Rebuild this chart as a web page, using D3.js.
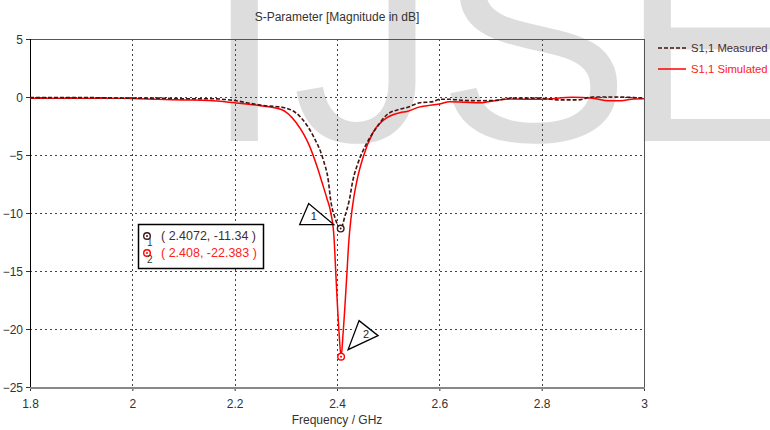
<!DOCTYPE html>
<html>
<head>
<meta charset="utf-8">
<script src="https://cdn.jsdelivr.net/npm/d3@7"></script>
<style>
  html, body { margin: 0; padding: 0; background: #fff; }
  svg { display: block; font-family: "Liberation Sans", Arial, sans-serif; }
</style>
</head>
<body>
<div id="chart"></div>
<script>
// Axis ticks
const xTicks = [1.8, 2, 2.2, 2.4, 2.6, 2.8, 3];
const yTicks = [5, 0, -5, -10, -15, -20, -25];

// S1,1 measured (dashed)
const freqMeas = [1.8, 1.9, 2.0, 2.05, 2.1, 2.15, 2.2, 2.23, 2.26, 2.295, 2.328, 2.354, 2.373, 2.383, 2.388, 2.396,
  2.4072, 2.416, 2.424, 2.431, 2.441, 2.458, 2.478, 2.497, 2.523, 2.537, 2.562, 2.588, 2.6, 2.62, 2.65, 2.68,
  2.71, 2.74, 2.8, 2.83, 2.87, 2.9, 2.95, 2.98, 3.0];
const measDb = [-0.05, -0.05, -0.1, -0.1, -0.15, -0.15, -0.3, -0.55, -0.75, -0.9, -1.7, -3.4, -5.4, -7.2, -9.0, -10.4,
  -11.34, -10.2, -8.9, -7.2, -5.7, -4.0, -2.6, -1.55, -1.05, -0.9, -0.5, -0.4, -0.2, -0.2, -0.3, -0.32,
  -0.3, -0.1, -0.1, -0.25, -0.25, 0.0, 0.0, -0.05, -0.1];

// S1,1 simulated (red)
const freqSim = [1.8, 1.9, 2.0, 2.05, 2.1, 2.15, 2.2, 2.25, 2.29, 2.32, 2.347, 2.361, 2.371, 2.38, 2.388, 2.394,
  2.398, 2.404, 2.408, 2.412, 2.419, 2.423, 2.427, 2.433, 2.439, 2.451, 2.47, 2.497, 2.523, 2.537, 2.562, 2.576,
  2.6, 2.62, 2.65, 2.68, 2.71, 2.74, 2.8, 2.86, 2.9, 2.93, 2.955, 2.98, 3.0];
const simDb = [-0.1, -0.1, -0.12, -0.2, -0.25, -0.3, -0.5, -0.75, -1.06, -2.2, -4.3, -6.0, -7.4, -8.7, -10.0, -12.0,
  -15.5, -20.3, -22.383, -20.3, -15.5, -12.5, -10.6, -8.6, -7.2, -5.2, -3.1, -1.8, -1.35, -1.25, -0.85, -0.75,
  -0.6, -0.4, -0.45, -0.5, -0.3, -0.17, -0.2, -0.03, -0.1, -0.32, -0.32, -0.17, -0.15];

// Markers
const markerNames = ['1', '2'];
const markerFreq = [2.4072, 2.408];
const markerDb = [-11.34, -22.383];

const seriesNames = ['S1,1 Measured', 'S1,1 Simulated'];
const seriesColors = ['#3f1515', '#ff0000'];

const width = 770, height = 430;
const margin = { top: 39, right: 126, bottom: 43, left: 30 };

const svg = d3.select('#chart').append('svg')
  .attr('width', width)
  .attr('height', height);

// Watermark letters behind everything
const wm = svg.append('g')
  .attr('fill', '#dddddd')
  .attr('font-family', '"Liberation Sans", Arial, sans-serif')
  .attr('font-size', 290);
[['I', 204], ['J', 292], ['S', 437], ['E', 620]].forEach(([ch, x]) => {
  wm.append('text').attr('x', x).attr('y', 141).text(ch);
});

const x = d3.scaleLinear().domain([1.8, 3]).range([margin.left, width - margin.right]);
const y = d3.scaleLinear().domain([-25, 5]).range([height - margin.bottom, margin.top]);

// Grid
const grid = svg.append('g')
  .attr('stroke', '#444')
  .attr('stroke-width', 1)
  .attr('stroke-dasharray', '2,3');
grid.selectAll('.vgrid')
  .data(xTicks.slice(1, -1))
  .enter().append('line')
  .attr('x1', d => Math.round(x(d)) + 0.5)
  .attr('x2', d => Math.round(x(d)) + 0.5)
  .attr('y1', y(5))
  .attr('y2', y(-25));
grid.selectAll('.hgrid')
  .data(yTicks.slice(1, -1))
  .enter().append('line')
  .attr('x1', x(1.8))
  .attr('x2', x(3))
  .attr('y1', d => Math.round(y(d)) + 0.5)
  .attr('y2', d => Math.round(y(d)) + 0.5);

// Axes
const xAxis = svg.append('g')
  .attr('transform', `translate(0,${y(-25)})`)
  .call(d3.axisBottom(x).tickValues(xTicks).tickSize(4).tickFormat(d3.format('')));
const yAxis = svg.append('g')
  .attr('transform', `translate(${x(1.8)},0)`)
  .call(d3.axisLeft(y).tickValues(yTicks).tickSize(4).tickFormat(d3.format('')));
[xAxis, yAxis].forEach(a => {
  a.select('.domain').remove();
  a.selectAll('line').attr('stroke', '#333');
  a.selectAll('text').attr('fill', '#333').attr('font-size', 12)
    .attr('font-family', '"Liberation Sans", Arial, sans-serif');
});
xAxis.selectAll('text').attr('dy', '1.2em');
yAxis.selectAll('text').attr('dy', '0.35em').attr('x', -7);

// Frame
svg.append('rect')
  .attr('x', x(1.8) + 0.5).attr('y', y(5) + 0.5)
  .attr('width', x(3) - x(1.8)).attr('height', y(-25) - y(5))
  .attr('fill', 'none').attr('stroke', '#555').attr('stroke-width', 1);
svg.append('line')
  .attr('x1', x(1.8) + 0.5).attr('x2', x(1.8) + 0.5)
  .attr('y1', y(5)).attr('y2', y(-25) + 1)
  .attr('stroke', '#000');
svg.append('line')
  .attr('x1', x(1.8)).attr('x2', x(3) + 1)
  .attr('y1', y(-25) + 1).attr('y2', y(-25) + 1)
  .attr('stroke', '#888').attr('stroke-width', 2);

// Curves
const line = d3.line()
  .x(d => x(d[0]))
  .y(d => y(d[1]))
  .curve(d3.curveMonotoneX);

svg.append('path')
  .datum(d3.zip(freqSim, simDb))
  .attr('d', line)
  .attr('fill', 'none')
  .attr('stroke', seriesColors[1])
  .attr('stroke-width', 1.5);

svg.append('path')
  .datum(d3.zip(freqMeas, measDb))
  .attr('d', line)
  .attr('fill', 'none')
  .attr('stroke', seriesColors[0])
  .attr('stroke-width', 1.6)
  .attr('stroke-dasharray', '4,2');

// Marker symbols (circle with dot)
const drawMarker = (g, cx, cy, color) => {
  g.append('circle').attr('cx', cx).attr('cy', cy).attr('r', 3.3)
    .attr('fill', '#fff').attr('stroke', color).attr('stroke-width', 1.4);
  g.append('circle').attr('cx', cx).attr('cy', cy).attr('r', 1)
    .attr('fill', color);
};

markerFreq.forEach((f, i) => {
  drawMarker(svg, x(f), y(markerDb[i]), seriesColors[i]);
});

// Marker flags (triangles)
const flagShapes = [
  [[-7, -4], [-41, -4], [-32, -25]],
  [[7, -7], [18, -36], [37, -21]]
];
const flagLabels = [[-30, -9], [22, -19]];
markerFreq.forEach((f, i) => {
  const mx = x(f), my = y(markerDb[i]);
  svg.append('polygon')
    .attr('points', flagShapes[i].map(p => [mx + p[0], my + p[1]].join(',')).join(' '))
    .attr('fill', '#fff')
    .attr('stroke', '#000')
    .attr('stroke-width', 1.3)
    .attr('stroke-linejoin', 'miter');
  svg.append('text')
    .attr('x', mx + flagLabels[i][0])
    .attr('y', my + flagLabels[i][1])
    .attr('font-size', 11)
    .attr('fill', '#222')
    .text(markerNames[i]);
});

// Marker readout box
const box = svg.append('g');
box.append('rect')
  .attr('x', 138.5).attr('y', 224.5)
  .attr('width', 125).attr('height', 44)
  .attr('fill', '#fff').attr('stroke', '#000').attr('stroke-width', 1.5);
markerFreq.forEach((f, i) => {
  const ry = 236 + i * 17;
  drawMarker(box, 147, ry, seriesColors[i]);
  box.append('text')
    .attr('x', 147).attr('y', ry + 10)
    .attr('font-size', 10).attr('fill', '#334')
    .text(markerNames[i]);
  box.append('text')
    .attr('x', 161).attr('y', ry + 4)
    .attr('font-size', 12.5)
    .attr('fill', i === 0 ? '#4a2a2a' : '#ff2020')
    .text(`( ${f}, ${markerDb[i]} )`);
});

// Title and axis label
svg.append('text')
  .attr('x', (x(1.8) + x(3)) / 2).attr('y', 21)
  .attr('text-anchor', 'middle')
  .attr('font-size', 12).attr('fill', '#333')
  .text('S-Parameter [Magnitude in dB]');
svg.append('text')
  .attr('x', (x(1.8) + x(3)) / 2).attr('y', 424)
  .attr('text-anchor', 'middle')
  .attr('font-size', 12).attr('fill', '#333')
  .text('Frequency / GHz');

// Legend
const legend = svg.append('g');
seriesNames.forEach((name, i) => {
  const ly = 48 + i * 21;
  legend.append('line')
    .attr('x1', 658).attr('x2', 686)
    .attr('y1', ly).attr('y2', ly)
    .attr('stroke', seriesColors[i])
    .attr('stroke-width', 1.5)
    .attr('stroke-dasharray', i === 0 ? '4,2' : null);
  legend.append('text')
    .attr('x', 691).attr('y', ly + 4)
    .attr('font-size', 11.3)
    .attr('fill', i === 0 ? '#4a2a2a' : '#ff2020')
    .text(name);
});
</script>
</body>
</html>
